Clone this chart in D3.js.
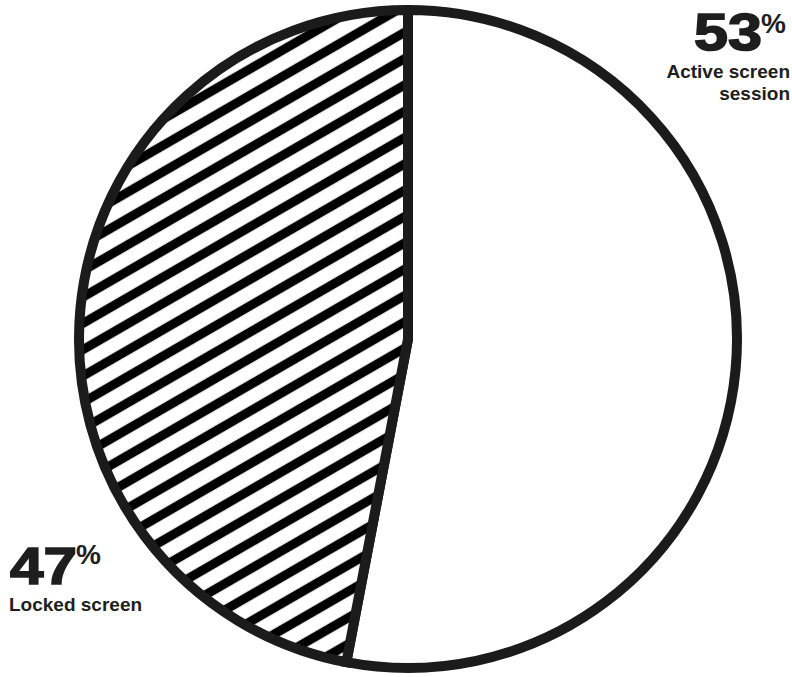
<!DOCTYPE html>
<html>
<head>
<meta charset="utf-8">
<script src="https://cdn.jsdelivr.net/npm/d3@7"></script>
<style>
  html, body { margin: 0; padding: 0; background: #fff; }
  svg { display: block; }
  text { font-family: "Liberation Sans", Arial, Helvetica, sans-serif; font-weight: bold; fill: #1e1e1e; }
</style>
</head>
<body>
<svg id="chart" width="792" height="677"></svg>
<script>
// Data
const categories = ["Active screen session", "Locked screen"];
const values = [53, 47];
const percentLabels = ["53", "47"];
const labelLines = [["Active screen", "session"], ["Locked screen"]];

const W = 792, H = 677;
const cx = 408, cy = 339, R = 329;
const ink = "#1b1b1b";

const svg = d3.select("#chart");
const defs = svg.append("defs");

// hatch pattern
const sp = 22.8;
const pat = defs.append("pattern")
  .attr("id", "hatch")
  .attr("patternUnits", "userSpaceOnUse")
  .attr("width", sp).attr("height", sp)
  .attr("patternTransform", "rotate(-30) translate(0,-5.1)");
pat.append("rect").attr("width", sp).attr("height", sp).attr("fill", "#fff");
pat.append("rect").attr("x", 0).attr("y", sp / 2 - 4.6).attr("width", sp).attr("height", 9.2).attr("fill", "#000");

const data = categories.map((c, i) => ({ name: c, value: values[i] }));
const pie = d3.pie().sort(null).value(d => d.value).startAngle(0).endAngle(2 * Math.PI);
const arc = d3.arc().innerRadius(0).outerRadius(R);
const fills = ["#ffffff", "url(#hatch)"];

const g = svg.append("g").attr("transform", `translate(${cx},${cy})`);
g.selectAll("path.slice")
  .data(pie(data))
  .join("path")
  .attr("class", "slice")
  .attr("d", arc)
  .attr("fill", (d, i) => fills[i])
  .attr("stroke", ink)
  .attr("stroke-width", 10)
  .attr("stroke-linejoin", "miter");

// Labels
// Active screen session (top right)
svg.append("text").attr("x", 694).attr("y", 50)
  .attr("font-size", 52).attr("stroke", "#1e1e1e").attr("stroke-width", 1.6)
  .attr("textLength", 68).attr("lengthAdjust", "spacingAndGlyphs")
  .text(percentLabels[0]);
svg.append("text").attr("x", 761).attr("y", 33).attr("font-size", 28).text("%");
labelLines[0].forEach((t, i) => {
  svg.append("text").attr("x", 790).attr("y", 78 + i * 22).attr("text-anchor", "end")
    .attr("font-size", 19).text(t);
});

// Locked screen (bottom left)
svg.append("text").attr("x", 10).attr("y", 584)
  .attr("font-size", 51).attr("stroke", "#1e1e1e").attr("stroke-width", 1.6)
  .attr("textLength", 67).attr("lengthAdjust", "spacingAndGlyphs")
  .text(percentLabels[1]);
svg.append("text").attr("x", 76).attr("y", 564).attr("font-size", 28).text("%");
labelLines[1].forEach((t, i) => {
  svg.append("text").attr("x", 9).attr("y", 611 + i * 22)
    .attr("font-size", 19).text(t);
});
</script>
</body>
</html>
